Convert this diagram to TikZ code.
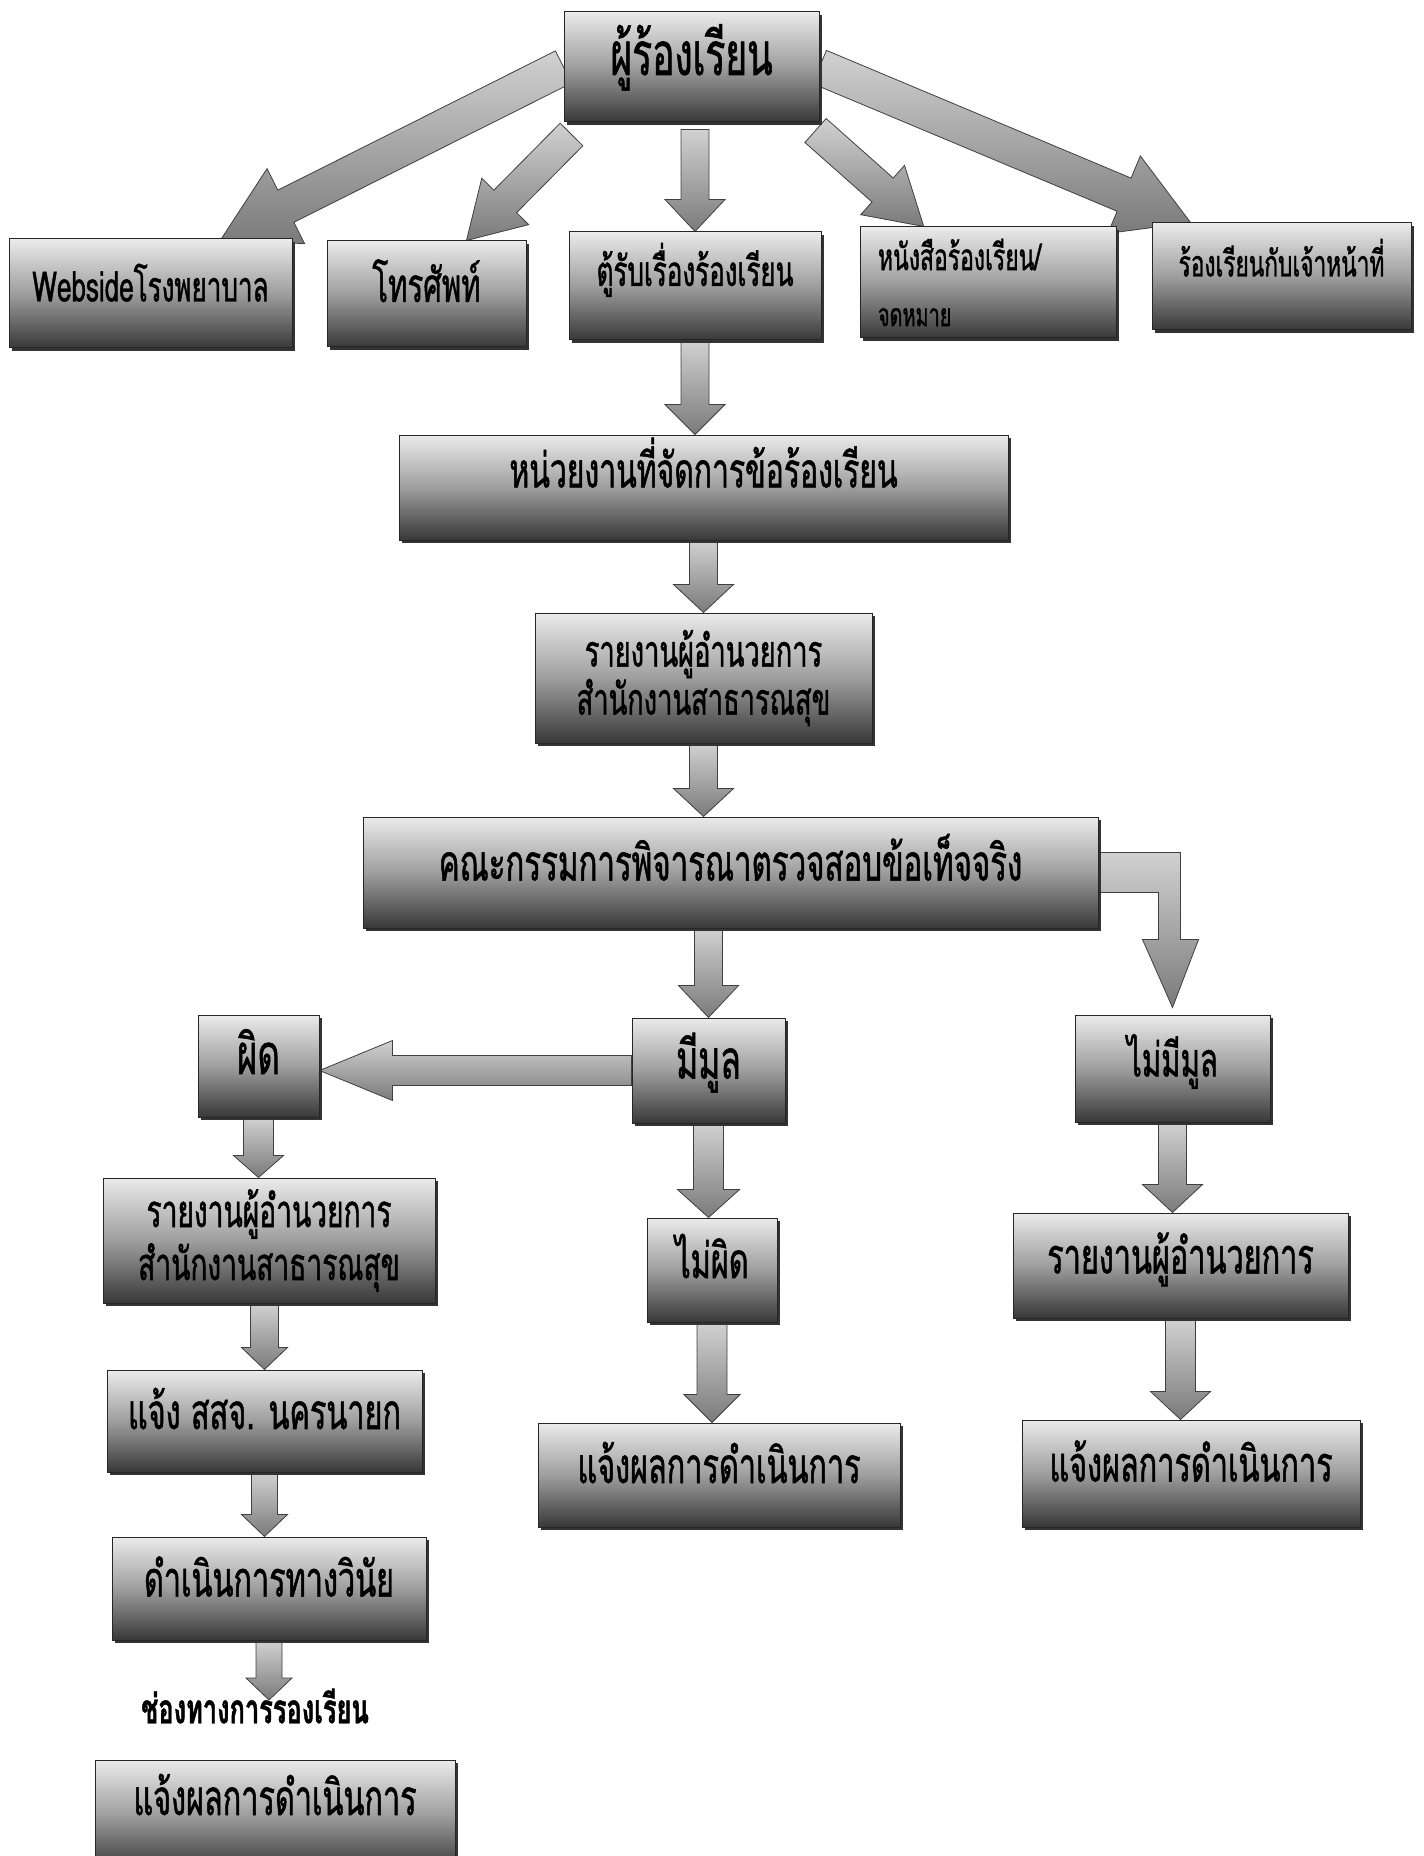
\documentclass[tikz,border=0pt]{standalone}
\usepackage{fontspec}
\newfontfamily\thai[Script=Thai,FakeStretch=0.62,FakeBold=1]{Loma}
\usetikzlibrary{calc,shadows,backgrounds}

% block arrow: [opts]{from}{to}{shaft}{head}{head length}, sizes in px
\newcommand\blockarrow[6][]{%
  \coordinate (ba-s) at #2;
  \coordinate (ba-e) at #3;
  \coordinate (ba-h) at ($(ba-e)!#6*0.5pt!(ba-s)$);
  \path[arrowbody,#1] ($(ba-s)!#4*0.25pt!90:(ba-e)$) -- ($(ba-h)!#4*0.25pt!-90:(ba-s)$)
    -- ($(ba-h)!#5*0.25pt!-90:(ba-s)$) -- (ba-e) -- ($(ba-h)!#5*0.25pt!90:(ba-s)$)
    -- ($(ba-h)!#4*0.25pt!90:(ba-s)$) -- ($(ba-s)!#4*0.25pt!-90:(ba-e)$) -- cycle;
}

\tikzset{
  box/.style={draw=black!85, line width=0.5pt, top color=black!8, bottom color=black!78,
    middle color=black!38, drop shadow={shadow xshift=1.5pt,shadow yshift=-1.5pt,fill=black!80,opacity=1},
    inner sep=2pt, align=center, font=\thai\fontsize{24.7}{26}\selectfont},
  one/.style={text height=14pt, text depth=6pt},
  high/.style={text height=14pt, text depth=14pt},
  fs/.style={font=\thai\fontsize{#1}{26}\selectfont},
  wh/.style 2 args={minimum width=#1*0.5pt, minimum height=#2*0.5pt},
  arrowbody/.style={draw=black!75, line width=0.4pt, top color=black!18, bottom color=black!52}
}

\begin{document}
\begin{tikzpicture}[x=0.5pt,y=-0.5pt]
\useasboundingbox (0,0) rectangle (1423,1856);

% top row
\node[box,one,fs=30,wh={255}{110}] (top) at (691.5,67) {ผู้ร้องเรียน};
\node[box,one,fs=21,wh={283}{109}] (web) at (150.5,293.5) {Websideโรงพยาบาล};
\node[box,one,fs=23.7,wh={199}{106}] (tel) at (426.5,294) {โทรศัพท์};
\node[box,high,fs=21,wh={252}{108}] (tu) at (695,286) {ตู้รับเรื่องร้องเรียน};
\node[box,fs=18.5,wh={256}{111},align=left,text width=110pt] (letter) at (988,282.5)
  {หนังสือร้องเรียน/\\[2pt]{\fontsize{16}{18}\selectfont จดหมาย}};
\node[box,high,fs=18.3,wh={259}{107}] (staff) at (1281.5,276.5) {ร้องเรียนกับเจ้าหน้าที่};

% middle
\node[box,high,fs=24.3,wh={609}{105}] (unit) at (703.5,487.5) {หน่วยงานที่จัดการข้อร้องเรียน};
\node[box,font=\thai\fontsize{22}{24}\selectfont,wh={337}{130}] (rep1) at (703.5,678) {รายงานผู้อำนวยการ\\สำนักงานสาธารณสุข};
\node[box,one,fs=25.2,wh={735}{111}] (comm) at (730.5,872.5) {คณะกรรมการพิจารณาตรวจสอบข้อเท็จจริง};
\node[box,one,fs=28,wh={121}{102}] (wrong) at (258.5,1066) {ผิด};
\node[box,one,fs=27,wh={153}{105}] (found) at (708.5,1070.5) {มีมูล};
\node[box,one,fs=23.7,wh={195}{107}] (notfound) at (1172.5,1068.5) {ไม่มีมูล};

% lower part
\node[box,font=\thai\fontsize{22.7}{26.5}\selectfont,wh={332}{125}] (rep2) at (269,1240.5) {รายงานผู้อำนวยการ\\สำนักงานสาธารณสุข};
\node[box,one,wh={130}{104}] (notwrong) at (712,1270) {ไม่ผิด};
\node[box,one,wh={335}{105}] (rep3) at (1180.5,1265.5) {รายงานผู้อำนวยการ};
\node[box,one,wh={315}{102}] (ssj) at (264.5,1421) {แจ้ง สสจ. นครนายก};
\node[box,one,wh={362}{104}] (res2) at (719,1475) {แจ้งผลการดำเนินการ};
\node[box,one,wh={338}{107}] (res3) at (1191,1473.5) {แจ้งผลการดำเนินการ};
\node[box,one,wh={314}{103}] (disc) at (269,1588.5) {ดำเนินการทางวินัย};
\node[font=\thai\bfseries\fontsize{20.5}{22}\selectfont,inner sep=0pt] (chan) at (255,1706) {ช่องทางการรองเรียน};
\node[box,high,wh={360}{110}] (res1) at (275,1815) {แจ้งผลการดำเนินการ};

\begin{pgfonlayer}{background}
\blockarrow{(top.west)}{($(web.north)!0.5!(web.north east)$)}{36}{84}{72}
\blockarrow{($(top.south west)+(8,12)$)}{($(tel.north)!0.4!(tel.north east)$)}{32}{66}{55}
\blockarrow{($(tu.north |- top.south)+(0,7)$)}{(tu.north)}{28}{60}{32}
\blockarrow{($(top.south east)+(-4,8)$)}{($(letter.north west)!0.25!(letter.north east)$)}{32}{66}{55}
\blockarrow{(top.east)}{($(staff.north west)!0.15!(staff.north east)$)}{36}{84}{72}
\blockarrow{(tu.south)}{(tu.south |- unit.north)}{28}{60}{30}
\blockarrow{(unit.south)}{(unit.south |- rep1.north)}{28}{60}{28}
\blockarrow{(rep1.south)}{(rep1.south |- comm.north)}{28}{60}{28}
\blockarrow{(found.north |- comm.south)}{(found.north)}{28}{60}{32}
\blockarrow{(found.west)}{(found.west -| wrong.east)}{30}{60}{73}
\blockarrow{(wrong.south)}{(wrong.south |- rep2.north)}{30}{50}{22}
\blockarrow{(found.south)}{(found.south |- notwrong.north)}{30}{62}{28}
\blockarrow{(notfound.south)}{(notfound.south |- rep3.north)}{28}{60}{28}
\blockarrow{(ssj.north |- rep2.south)}{(ssj.north)}{28}{46}{22}
\blockarrow{(ssj.south)}{(ssj.south |- disc.north)}{26}{46}{22}
\blockarrow{(disc.south)}{($(disc.south |- chan.center)+(0,-6)$)}{26}{46}{22}
\blockarrow{(notwrong.south)}{(notwrong.south |- res2.north)}{30}{56}{28}
\blockarrow{(rep3.south)}{(rep3.south |- res3.north)}{30}{60}{28}
% bent arrow to the right branch
\coordinate (bs) at (comm.east);
\coordinate (bt) at ($(notfound.north)+(0,-7)$);
\path[arrowbody] ($(bs)+(0,-20)$) -- ($(bt |- bs)+(8,-20)$) -- ($(bt)+(8,-68)$) -- ($(bt)+(26,-68)$)
  -- (bt) -- ($(bt)+(-30,-68)$) -- ($(bt)+(-14,-68)$) -- ($(bt |- bs)+(-14,20)$) -- ($(bs)+(0,20)$) -- cycle;
\end{pgfonlayer}
\end{tikzpicture}
\end{document}
